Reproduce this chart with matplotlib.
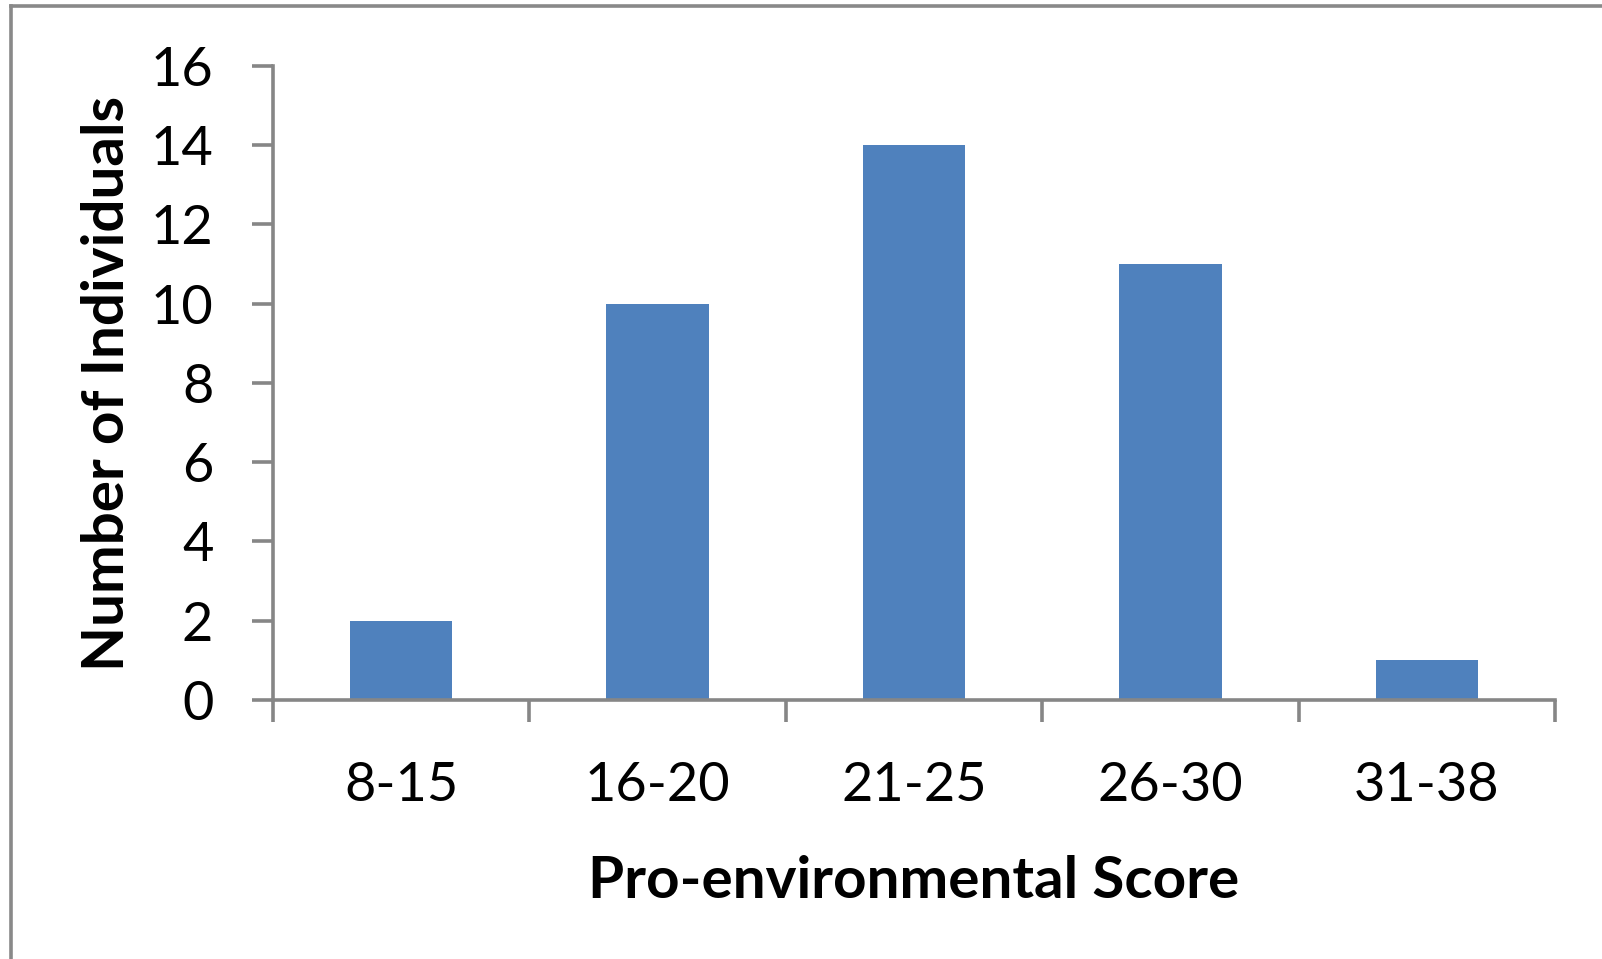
import numpy as np
import matplotlib.pyplot as plt
from matplotlib.lines import Line2D

# Score bands and how many people fell into each
score_bands = ['8-15', '16-20', '21-25', '26-30', '31-38']
num_individuals = [2, 10, 14, 11, 1]
y_ticks = [0, 2, 4, 6, 8, 10, 12, 14, 16]

bar_color = '#4F81BD'
axis_gray = '#868686'

plt.rcParams['font.family'] = ['Lato', 'DejaVu Sans']

fig = plt.figure(figsize=(16.02, 9.59), dpi=100)
ax = fig.add_axes([0.1704, 0.2701, 0.8003, 0.6611])

positions = np.arange(len(score_bands))
ax.bar(positions, num_individuals, width=0.4, color=bar_color, zorder=2)

ax.set_xlim(-0.5, len(score_bands) - 0.5)
ax.set_ylim(0, 16)
ax.set_yticks(y_ticks)
ax.set_yticklabels([str(t) for t in y_ticks])

# category labels sit between the boundary ticks
ax.set_xticks(positions)
ax.set_xticklabels(score_bands)
ax.set_xticks(np.arange(len(score_bands) + 1) - 0.5, minor=True)
ax.tick_params(axis='x', which='major', length=0, pad=44, labelsize=39)
ax.tick_params(axis='x', which='minor', length=16, width=2.6,
               color=axis_gray, direction='out')
ax.tick_params(axis='y', length=15, width=2.6, color=axis_gray,
               direction='out', pad=28, labelsize=39)

for side in ['top', 'right']:
    ax.spines[side].set_visible(False)
for side in ['left', 'bottom']:
    ax.spines[side].set_color(axis_gray)
    ax.spines[side].set_linewidth(2.6)

ax.set_xlabel('Pro-environmental Score', fontsize=42, fontweight='bold',
              labelpad=32)
ax.set_ylabel('Number of Individuals', fontsize=42, fontweight='bold',
              labelpad=12)

# chart area frame, left and top edges
fig.add_artist(Line2D([0.0068, 0.0068], [0.0, 0.9937], transform=fig.transFigure,
                      color='#898989', linewidth=2.6))
fig.add_artist(Line2D([0.0068, 1.0], [0.9937, 0.9937], transform=fig.transFigure,
                      color='#898989', linewidth=2.6))

fig.savefig('out.png', dpi=100)
